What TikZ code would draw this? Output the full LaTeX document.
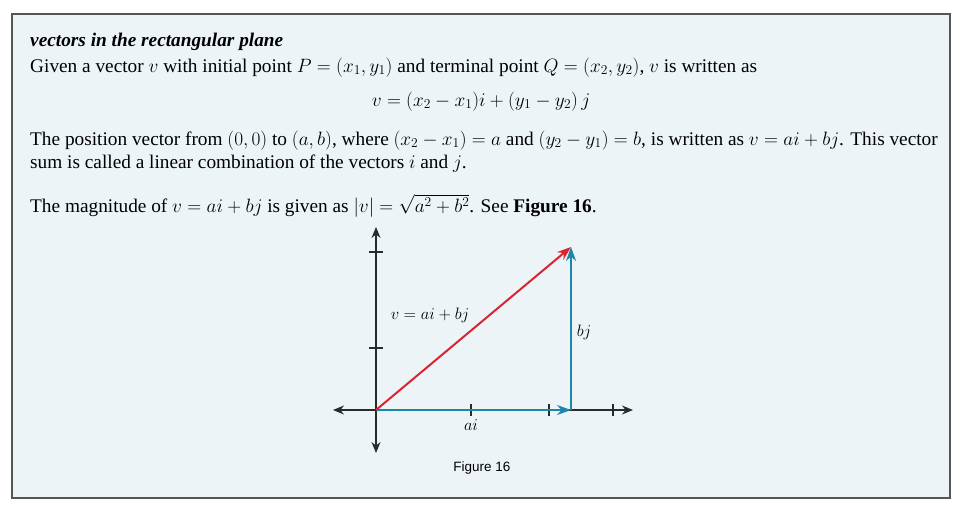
\RequirePackage{fix-cm}
\documentclass[tikz,border=0pt]{standalone}
\usepackage{fontspec}
\setmainfont{Liberation Serif}
\newfontfamily\figfont{Liberation Sans}
\usetikzlibrary{arrows.meta}
\definecolor{boxfill}{HTML}{EDF4F8}
\definecolor{boxline}{HTML}{555555}
\definecolor{vred}{HTML}{D9262E}
\definecolor{vblue}{HTML}{1E86A8}
\definecolor{axisc}{HTML}{2A2A2A}
\tikzset{
  body/.style={anchor=base west, inner sep=0pt, font=\fontsize{19.3}{23}\selectfont},
  axisline/.style={axisc, line width=1.5pt, -{Stealth[length=11pt,width=9pt]}},
  tick/.style={axisc, line width=1.4pt},
  vecred/.style={vred, line width=2pt, -{Stealth[length=14pt,width=10pt]}},
  vecblue/.style={vblue, line width=2.6pt, -{Stealth[length=14pt,width=10pt]}},
  lab/.style={inner sep=0pt, font=\fontsize{16.5}{18}\selectfont}
}
\begin{document}
\begin{tikzpicture}[x=1pt,y=-1pt]
\useasboundingbox (0,0) rectangle (964,506);
\draw[boxline, fill=boxfill, line width=1.6pt] (12,14) rectangle (950,498);
\node[body] (title) at (30,46) {\textbf{\textit{vectors in the rectangular plane}}};
\node[body] (l1) at (30,72) {Given a vector $v$ with initial point $P=(x_1,y_1)$ and terminal point $Q=(x_2,y_2)$, $v$ is written as};
\node[body, anchor=base] (eq) at (481,106) {$v=(x_2-x_1)i+(y_1-y_2)\,j$};
\node[body] (l2) at (30,145) {The position vector from $(0,0)$ to $(a,b)$, where $(x_2-x_1)=a$ and $(y_2-y_1)=b$, is written as $v=ai+bj$. This vector};
\node[body] (l3) at (30,168) {sum is called a linear combination of the vectors $i$ and $j$.};
\node[body] (l4) at (30,212) {The magnitude of $v=ai+bj$ is given as $|v|=\sqrt{a^2+b^2}$. See \textbf{Figure 16}.};
% graph
\coordinate (O) at (376,410);
\coordinate (xl) at (333,410);
\coordinate (xr) at (633,410);
\coordinate (yt) at (376,227);
\coordinate (yb) at (376,453);
\coordinate (T) at (571,247);
\coordinate (A) at (571,410);
\draw[axisline] (O) -- (xr);
\draw[axisline] (O) -- (xl);
\draw[axisline] (O) -- (yt);
\draw[axisline] (O) -- (yb);
\foreach \y in {252,348} \draw[tick] (369,\y) -- (383,\y);
\foreach \x in {471,549,613} \draw[tick] (\x,404) -- (\x,416);
\draw[vecblue] (O) -- (A);
\draw[vecblue] (A) -- (T);
\draw[vecred] (O) -- (T);
\node[lab] (lv) at (430,315) {$v=ai+bj$};
\node[lab] (lbj) at (584,332) {$bj$};
\node[lab] (lai) at (471,425) {$ai$};
\node[inner sep=0pt, font=\figfont\fontsize{13.5}{15}\selectfont] (cap) at (482,468) {Figure 16};
\end{tikzpicture}
\end{document}
